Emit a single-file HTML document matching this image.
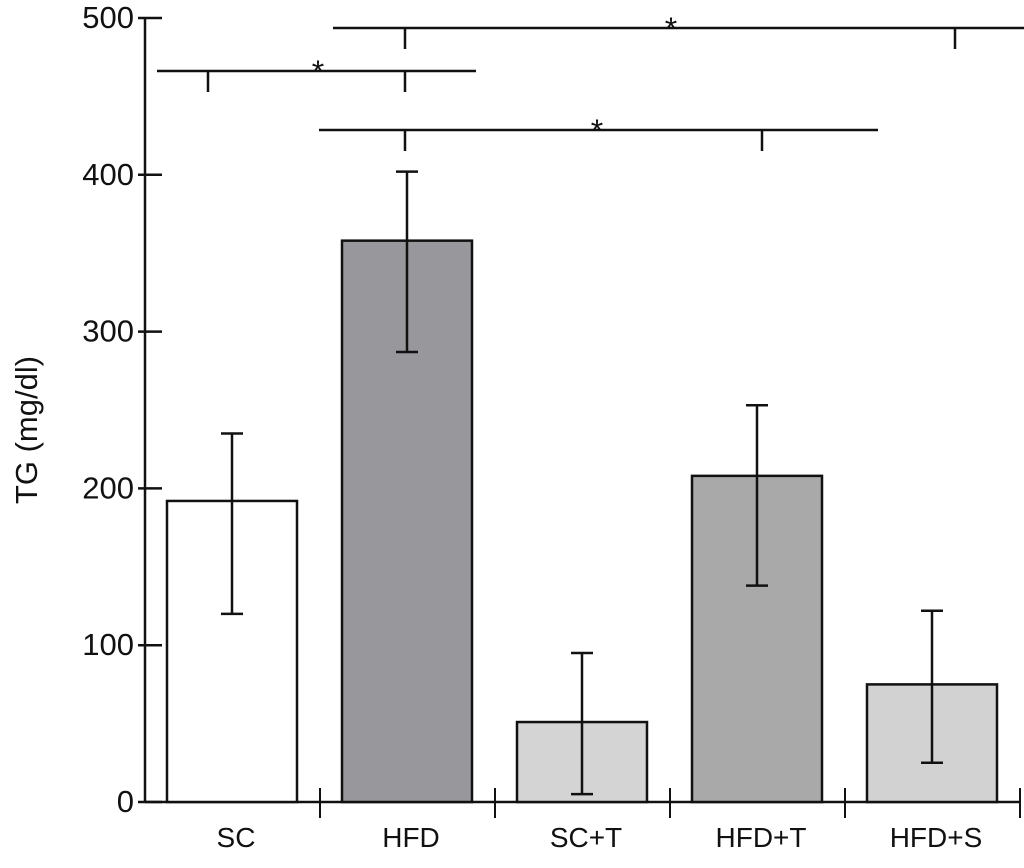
<!DOCTYPE html>
<html><head><meta charset="utf-8"><style>
body{margin:0;background:#fff;}
svg text{font-family:"Liberation Sans",sans-serif;fill:#111;}
</style></head><body>
<svg id="chart" width="1024" height="863" viewBox="0 0 1024 863" xmlns="http://www.w3.org/2000/svg">
<g id="axes"></g>
<g id="bars"></g>
<g id="sig"></g>
<text transform="translate(37,430) rotate(-90)" text-anchor="middle" font-size="31">TG (mg/dl)</text>
</svg>
<script>
const categories = ["SC","HFD","SC+T","HFD+T","HFD+S"];
const values = [192,358,51,208,75];
const errHigh = [235,402,95,253,122];
const errLow = [120,287,5,138,25];
const colors = ["#ffffff","#98989c","#d4d4d4","#a9a9a9","#d2d2d2"];
const yTicks = [0,100,200,300,400,500];
const NS="http://www.w3.org/2000/svg";
const y0=802, y500=18, xLeft=145, slot=175;
function y(v){return y0-(y0-y500)*v/500;}
function xc(i){return 232+i*slot;}
function mk(tag,attrs,parent){const e=document.createElementNS(NS,tag);for(const k in attrs)e.setAttribute(k,attrs[k]);parent.appendChild(e);return e;}
const axes=document.getElementById('axes'),bars=document.getElementById('bars'),sig=document.getElementById('sig');
let e=mk('line',{x1:xLeft,y1:y(0),x2:xLeft,y2:y(500),stroke:'#111','stroke-width':2.5},axes);


e=mk('line',{x1:xLeft,y1:y(0),x2:1021,y2:y(0),stroke:'#111','stroke-width':2.5},axes);


yTicks.forEach(t=>{
 let l=mk('line',{x1:138,y1:y(t),x2:162,y2:y(t),stroke:'#111','stroke-width':2.5},axes);
 
 
 let tx=mk('text',{x:134,y:y(t)+10,'text-anchor':'end','font-size':31},axes);tx.textContent=t;
 
 
});
for(let i=1;i<=categories.length;i++){
 let l=mk('line',{x1:xLeft+i*slot,y1:y(0)-14,x2:xLeft+i*slot,y2:y(0)+16,stroke:'#111','stroke-width':2},axes);
 
 
}
categories.forEach((c,i)=>{
 const cx=xc(i);
 let r=mk('rect',{x:cx-65,y:y(values[i]),width:130,height:y(0)-y(values[i]),fill:colors[i],stroke:'#111','stroke-width':2.5},bars);
 
 
 let g=mk('path',{d:`M${cx} ${y(errHigh[i])}V${y(errLow[i])}M${cx-11} ${y(errHigh[i])}H${cx+11}M${cx-11} ${y(errLow[i])}H${cx+11}`,stroke:'#111','stroke-width':2.5,fill:'none'},bars);
 
 
 let t=mk('text',{x:cx+4,y:847,'text-anchor':'middle','font-size':28},bars);t.textContent=c;
 
 
});
const brackets=[
 {y:28,x1:333,x2:1024,ticks:[405,955],star:671},
 {y:71,x1:157,x2:476,ticks:[208,405],star:318},
 {y:130,x1:319,x2:878,ticks:[405,762],star:597}
];
brackets.forEach(b=>{
 let d=`M${b.x1} ${b.y}H${b.x2}`;b.ticks.forEach(t=>d+=`M${t} ${b.y}V${b.y+21}`);
 let p=mk('path',{d:d,stroke:'#111','stroke-width':2.5,fill:'none'},sig);
 
 
 let s=mk('text',{x:b.star,y:b.y+12,'text-anchor':'middle','font-size':32},sig);s.textContent='*';
 
 
});
</script>
</body></html>
